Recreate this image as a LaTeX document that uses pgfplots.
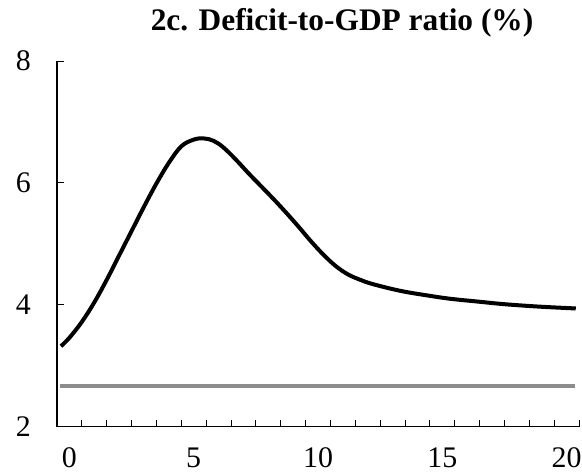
\documentclass[border=0pt]{standalone}
\usepackage{fontspec}
\setmainfont{Liberation Serif}
\usepackage{pgfplots}
\pgfplotsset{compat=1.18}
\definecolor{flatgray}{RGB}{140,140,140}
\begin{document}
\begin{tikzpicture}
\path[use as bounding box] (0,0) rectangle (582bp,476bp);
\begin{axis}[
  at={(57bp,49.3bp)}, anchor=south west,
  scale only axis, width=522bp, height=365.7bp,
  xmin=-0.5, xmax=20.5, ymin=2, ymax=8,
  axis lines=left, axis line style={-, line width=1.2bp, black},
  tick align=inside,
  xtick={0,5,10,15,20},
  major x tick style={draw=none},
  minor xtick={0.5,1.5,...,20.5},
  minor tick length=7bp,
  minor x tick style={line width=1bp, black},
  ytick={2,4,6,8},
  major tick length=7bp,
  major y tick style={line width=1bp, black},
  /pgf/number format/assume math mode=true,
  ticklabel style={font=\fontsize{30}{36}\selectfont, inner sep=0pt},
  xticklabel style={anchor=north, yshift=-21bp},
  yticklabel style={anchor=east, xshift=-26bp},
  title={2c. Deficit-to-GDP ratio (\%)},
  title style={font=\bfseries\fontsize{31.5}{38}\selectfont, anchor=base,
    at={(axis description cs:0.546,1)}, yshift=25bp, inner sep=0pt},
  clip=false,
]
\addplot[flatgray, line width=3.5bp] coordinates {(-0.38,2.67) (20.33,2.67)};
\addplot[black, line width=4bp, smooth, tension=0.6] coordinates {
(-0.34,3.32) (0.0,3.46) (0.5,3.72) (1.0,4.04) (1.5,4.41) (2.0,4.81)
(2.5,5.21) (3.0,5.61) (3.5,5.99) (4.0,6.33) (4.5,6.60) (5.0,6.71)
(5.4,6.73) (5.8,6.69) (6.2,6.58) (6.7,6.38) (7.2,6.16) (7.7,5.95)
(8.2,5.74) (8.7,5.52) (9.2,5.29) (9.7,5.05) (10.2,4.83) (10.7,4.64)
(11.2,4.50) (11.7,4.41) (12.2,4.34) (13.3,4.23) (14.3,4.16) (15.3,4.10)
(16.5,4.05) (17.5,4.01) (18.9,3.97) (20.37,3.94)
};
\end{axis}
\end{tikzpicture}
\end{document}
